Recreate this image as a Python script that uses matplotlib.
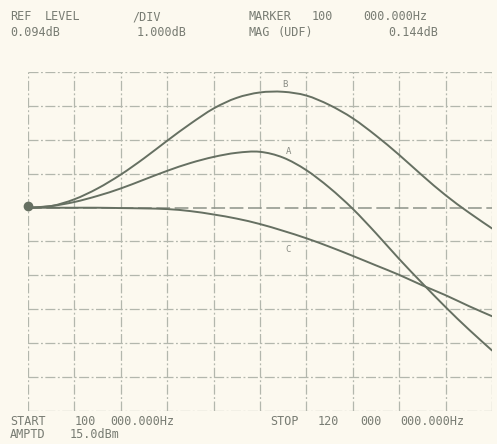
import matplotlib.pyplot as plt
import numpy as np
from matplotlib.path import Path
from matplotlib.patches import PathPatch

# sweep points (MHz), linear sweep 100 kHz .. 120 MHz
freq_mhz = [0.1, 6.1, 12.1, 18.1, 24.1, 30.1, 36.1, 42.1, 48.1, 54.0, 60.0,
            66.0, 72.0, 78.0, 84.0, 90.0, 96.0, 102.0, 108.0, 114.0, 120.0]

# magnitude traces (dB)
trace_a = [0.09, 0.14, 0.26, 0.44, 0.66, 0.92, 1.18, 1.41, 1.59, 1.71, 1.74,
           1.57, 1.20, 0.68, 0.06, -0.66, -1.42, -2.14, -2.84, -3.50, -4.12]
trace_b = [0.09, 0.14, 0.34, 0.66, 1.07, 1.55, 2.07, 2.57, 3.02, 3.33, 3.49,
           3.51, 3.40, 3.12, 2.73, 2.22, 1.65, 1.04, 0.46, -0.05, -0.52]
trace_c = [0.09, 0.09, 0.09, 0.09, 0.08, 0.07, 0.05, -0.01, -0.11, -0.23, -0.39,
           -0.59, -0.81, -1.06, -1.33, -1.61, -1.89, -2.20, -2.49, -2.81, -3.11]

trace_names = ["A", "B", "C"]
label_pos = [(67.3, 1.75), (66.5, 3.72), (67.3, -1.15)]

start_mhz = 0.1
stop_mhz = 120.0
ref_level = 0.094
db_per_div = 1.0
marker_mhz = 0.1
marker_db = 0.144

BG = "#fcf9ef"
INK = "#667062"
GRID = "#b3b7ad"
TXT = "#787c73"


def smooth_trace(x, y):
    # Catmull-Rom through the read points, drawn as cubic Bezier segments
    pts = np.column_stack([x, y])
    n = len(pts)
    verts = [pts[0]]
    codes = [Path.MOVETO]
    for i in range(n - 1):
        p0 = pts[max(i - 1, 0)]
        p1 = pts[i]
        p2 = pts[i + 1]
        p3 = pts[min(i + 2, n - 1)]
        verts += [p1 + (p2 - p0) / 6, p2 - (p3 - p1) / 6, p2]
        codes += [Path.CURVE4] * 3
    return Path(verts, codes)


W, H = 497, 444
fig = plt.figure(figsize=(W / 100, H / 100), dpi=100, facecolor=BG)
ax = fig.add_axes([28 / W, 1 - 411 / H, (492 - 28) / W, (411 - 72) / H])
ax.set_facecolor(BG)

x_lo, x_hi = start_mhz, stop_mhz
y_lo, y_hi = ref_level - 6 * db_per_div, ref_level + 4 * db_per_div
ax.set_xlim(x_lo, x_hi)
ax.set_ylim(y_lo, y_hi)

# graticule: 10 x 10, dash-dot
xdiv = np.linspace(x_lo, x_hi, 11)
ydiv = np.linspace(y_lo, y_hi, 11)
for xv in xdiv:
    ax.axvline(xv, color=GRID, lw=0.9, ls=(0, (8, 2, 1.5, 2)), zorder=1)
for yv in ydiv:
    if abs(yv - ref_level) < 1e-6:
        continue
    ax.axhline(yv, color=GRID, lw=0.9, ls=(0, (8, 2, 1.5, 2)), zorder=1)
# reference line
ax.axhline(ref_level, color="#8d9288", lw=1.1, ls=(0, (9, 3)), zorder=1)

for spine in ax.spines.values():
    spine.set_visible(False)
ax.set_xticks([])
ax.set_yticks([])

for vals in [trace_a, trace_b, trace_c]:
    ax.add_patch(PathPatch(smooth_trace(freq_mhz, vals), fill=False,
                           edgecolor=INK, lw=1.4, capstyle="round", zorder=3))

for name, (lx, ly) in zip(trace_names, label_pos):
    ax.text(lx, ly, name, color="#8a8d85", fontsize=6.5, ha="center", va="center",
            family="DejaVu Sans Mono", zorder=4)

ax.plot([marker_mhz], [marker_db], "o", color=INK, ms=6, clip_on=False, zorder=4)

# annotation text, placed word by word in pixel positions
words = [
    (10, 20, "REF"), (45, 20, "LEVEL"), (132, 20, "/DIV"),
    (249, 20, "MARKER"), (312, 20, "100"), (363, 20, "000.000Hz"),
    (10, 36, "0.094dB"), (137, 36, "1.000dB"), (249, 36, "MAG"),
    (278, 36, "(UDF)"), (388, 36, "0.144dB"),
    (10, 425, "START"), (75, 425, "100"), (110, 425, "000.000Hz"),
    (270, 425, "STOP"), (318, 425, "120"), (360, 425, "000"), (400, 425, "000.000Hz"),
    (10, 438, "AMPTD"), (70, 438, "15.0dBm"),
]
for px, py, s in words:
    fig.text(px / W, 1 - py / H, s, color=TXT, fontsize=8.5,
             family="DejaVu Sans Mono", ha="left", va="baseline")

fig.savefig("out.png", dpi=100, facecolor=BG)
